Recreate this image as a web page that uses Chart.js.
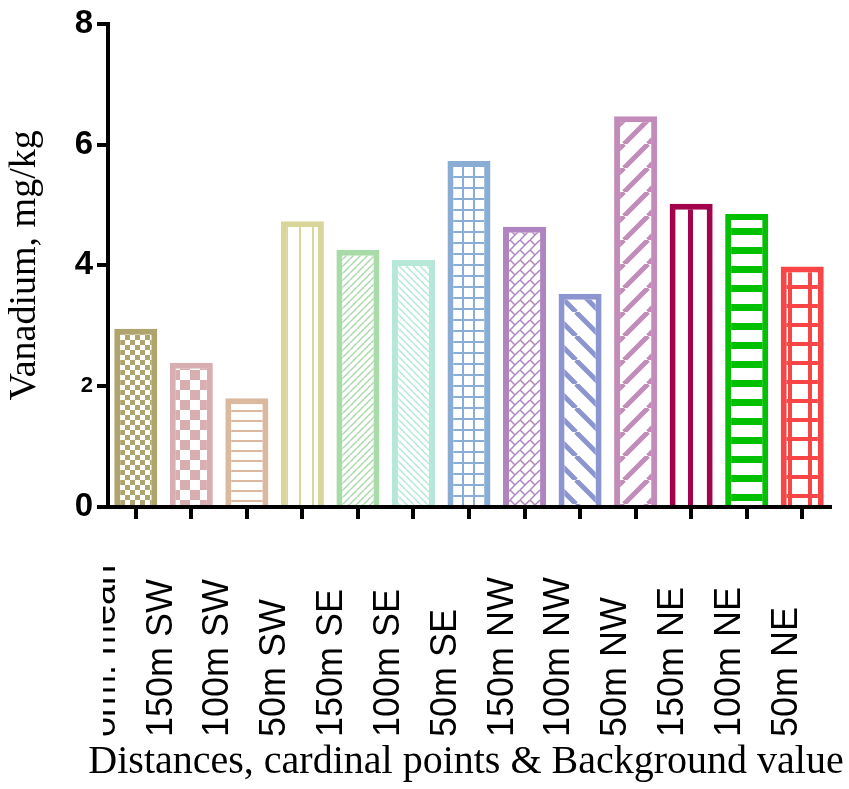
<!DOCTYPE html>
<html>
<head>
<meta charset="utf-8">
<script src="https://cdn.jsdelivr.net/npm/chart.js@4.4.1/dist/chart.umd.min.js"></script>
<style>
  html, body { margin: 0; padding: 0; background: #fff; }
  #wrap { width: 849px; height: 789px; }
</style>
</head>
<body>
<div id="wrap"><canvas id="chart"></canvas></div>
<script>
// data
const categories = ['orm. mean', '150m SW', '100m SW', '50m SW', '150m SE', '100m SE', '50m SE',
  '150m NW', '100m NW', '50m NW', '150m NE', '100m NE', '50m NE']
const vanadium = [2.95, 2.39, 1.80, 4.73, 4.26, 4.09, 5.73, 4.64, 3.53, 6.47, 5.02, 4.85, 3.98]
const yTicks = [0, 2, 4, 6, 8]
const xTitle = 'Distances, cardinal points & Background value'

const barColors = ['#b0a46e', '#d8aeb1', '#dbb99f', '#d9d69b', '#a8dba8', '#b5e8d6', '#8aadd6',
  '#b084c0', '#8c95d0', '#c18cb9', '#a2044c', '#00c000', '#f84646']

// small canvas tiles used as bar fills
function tile(w, h, color, draw) {
  const c = document.createElement('canvas')
  c.width = w; c.height = h
  const g = c.getContext('2d')
  g.fillStyle = '#fff'; g.fillRect(0, 0, w, h)
  g.fillStyle = color; g.strokeStyle = color
  draw(g, w, h)
  return g.createPattern(c, 'repeat')
}
function diag(g, s, lw, back) {
  g.lineWidth = lw
  for (const o of [-s, 0, s]) {
    g.beginPath()
    if (back) { g.moveTo(o, 0); g.lineTo(o + s, s) }
    else { g.moveTo(o, s); g.lineTo(o + s, 0) }
    g.stroke()
  }
}
const fills = [
  (c) => tile(10, 10, c, (g) => { g.fillRect(0, 0, 5, 5); g.fillRect(5, 5, 5, 5) }),
  (c) => tile(20, 20, c, (g) => { g.fillRect(0, 0, 10, 10); g.fillRect(10, 10, 10, 10) }),
  (c) => tile(10, 10, c, (g) => g.fillRect(0, 0, 10, 2)),
  (c) => tile(13, 13, c, (g) => g.fillRect(0, 0, 2, 13)),
  (c) => tile(7, 7, c, (g) => diag(g, 7, 1.5, false)),
  (c) => tile(7, 7, c, (g) => diag(g, 7, 1.5, true)),
  (c) => tile(11, 11, c, (g) => { g.fillRect(0, 0, 2, 11); g.fillRect(0, 0, 11, 2) }),
  (c) => tile(10, 10, c, (g) => {
    diag(g, 10, 1.5, false)
    g.lineWidth = 1.5
    g.beginPath(); g.moveTo(0, 0); g.lineTo(5, 5); g.stroke()
  }),
  (c) => tile(24, 24, c, (g) => diag(g, 24, 5, true)),
  (c) => tile(24, 24, c, (g) => diag(g, 24, 5, false)),
  (c) => tile(20, 20, c, (g) => g.fillRect(8, 0, 5, 20)),
  (c) => tile(19, 19, c, (g) => g.fillRect(0, 0, 19, 7)),
  (c) => tile(20, 19, c, (g) => { g.fillRect(8, 0, 4, 19); g.fillRect(0, 0, 20, 4) })
]
const barFills = barColors.map((c, i) => fills[i](c))

// x tick labels are drawn bottom-aligned, reading upwards; the x title is wider than the axis
const xLabelPlugin = {
  id: 'xLabels',
  afterDraw(chart) {
    const ctx = chart.ctx
    const xs = chart.scales.x
    ctx.save()
    ctx.beginPath()
    ctx.rect(103, xs.top + 2, chart.width, xs.height)
    ctx.clip()
    ctx.fillStyle = '#000'
    ctx.font = "36px 'Liberation Sans', Arial, sans-serif"
    ctx.textAlign = 'left'
    ctx.textBaseline = 'middle'
    categories.forEach((lab, i) => {
      const x = xs.getPixelForTick(i) - 31 + 1.3 * i
      ctx.save()
      ctx.translate(x, 737)
      ctx.rotate(-Math.PI / 2)
      ctx.fillText(lab, 0, 0)
      ctx.restore()
    })
    ctx.restore()

    ctx.save()
    ctx.fillStyle = '#000'
    ctx.font = "40px 'Liberation Serif', 'Times New Roman', serif"
    ctx.textAlign = 'center'
    ctx.textBaseline = 'alphabetic'
    ctx.fillText(xTitle, (xs.left + xs.right) / 2 - 3, 773)
    ctx.restore()
  }
}

new Chart(document.getElementById('chart'), {
  type: 'bar',
  data: {
    labels: categories,
    datasets: [{
      data: vanadium,
      backgroundColor: barFills,
      borderColor: barColors,
      borderWidth: 6,
      borderSkipped: 'start',
      barPercentage: 0.775,
      categoryPercentage: 1
    }]
  },
  options: {
    responsive: true,
    maintainAspectRatio: false,
    animation: false,
    layout: { padding: { top: 22, right: 19, left: 0, bottom: 0 } },
    plugins: { legend: { display: false }, tooltip: { enabled: false } },
    scales: {
      x: {
        afterFit(s) { s.height = 282 },
        grid: { display: true, drawOnChartArea: false, offset: false, tickLength: 12, lineWidth: 4, color: '#000' },
        border: { display: true, width: 4, color: '#000' },
        ticks: { display: false }
      },
      y: {
        min: 0,
        max: 8,
        afterFit(s) { s.width = 108 },
        afterBuildTicks(s) { s.ticks = yTicks.map(v => ({ value: v })) },
        grid: { display: true, drawOnChartArea: false, tickLength: 11, lineWidth: 4, color: '#000' },
        border: { display: true, width: 4, color: '#000' },
        ticks: {
          color: '#000',
          padding: 4,
          font: (ctx) => ({
            family: "'Liberation Sans', Arial, sans-serif",
            weight: 'bold',
            size: ctx.tick && ctx.tick.value === 2 ? 22 : 33
          })
        },
        title: {
          display: true,
          text: 'Vanadium, mg/kg',
          color: '#000',
          font: { family: "'Liberation Serif', 'Times New Roman', serif", size: 38, weight: 'normal' },
          padding: { top: 2, bottom: 0 }
        }
      }
    }
  },
  plugins: [xLabelPlugin]
})
</script>
</body>
</html>
